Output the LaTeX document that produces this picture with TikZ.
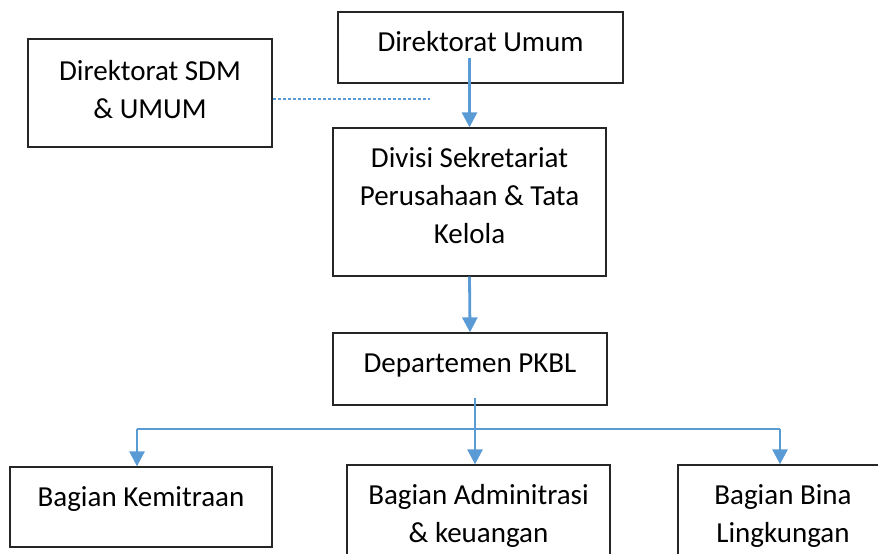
\documentclass[tikz,border=0pt]{standalone}
\usepackage{fontspec}
\setmainfont{Carlito}
\usetikzlibrary{arrows.meta}
\definecolor{linkblue}{HTML}{5B9BD5}
\tikzset{
  box/.style={draw=black!85, line width=1.3pt, inner sep=0pt},
  inlbl/.style={anchor=base, yshift=-40pt, align=center, inner sep=0pt, font=\fontsize{29}{38}\selectfont},
  arr/.style={draw=linkblue, line width=2.8pt, -{Triangle[width=15pt,length=15pt]}},
  hline/.style={draw=linkblue, line width=1.4pt},
  dashln/.style={draw=linkblue, line width=1.2pt, dash pattern=on 3pt off 2pt}
}
\begin{document}
\begin{tikzpicture}[x=1pt,y=-1pt]
\useasboundingbox (0,0) rectangle (878,554);
\clip (0,0) rectangle (878,554);

\node[box, minimum width=285pt, minimum height=71pt, label={[inlbl]north:Direktorat Umum}] (umum) at (480.5,47.5) {};
\node[box, minimum width=244pt, minimum height=108pt, label={[inlbl,yshift=-40pt]north:{Direktorat SDM\\ \& UMUM}}] (sdm) at (150,93) {};
\node[box, minimum width=273pt, minimum height=148pt, label={[inlbl,yshift=-76pt]north:{Divisi Sekretariat\\ Perusahaan \& Tata\\ Kelola}}] (divisi) at (469.5,202) {};
\node[box, minimum width=274pt, minimum height=72pt, label={[inlbl]north:Departemen PKBL}] (dept) at (470,369) {};
\node[box, minimum width=262pt, minimum height=80pt, label={[inlbl]north:Bagian Kemitraan}] (kem) at (141,507) {};
\node[box, minimum width=263pt, minimum height=110pt, label={[inlbl,yshift=-38pt]north:{Bagian Adminitrasi\\ \& keuangan}}] (adm) at (478.5,520) {};
\node[box, minimum width=210pt, minimum height=110pt, label={[inlbl,yshift=-38pt]north:{Bagian Bina\\ Lingkungan}}] (bina) at (783,520) {};

\coordinate (dashend) at (430,99);
\coordinate (split) at (475,429);
\coordinate (lft) at (137,429);
\coordinate (rgt) at (780,429);

\draw[dashln] ([yshift=-6pt]sdm.east) -- (dashend);
\draw[arr] ([yshift=26pt]umum.south -| divisi) -- (divisi.north);
\draw[arr] (divisi.south) -- (dept.north);
\draw[hline] (lft) -- (rgt);
\draw[arr] ([yshift=8pt]dept.south -| split) -- (split |- adm.north);
\draw[arr] (lft) -- (lft |- kem.north);
\draw[arr] (rgt) -- (rgt |- bina.north);
\end{tikzpicture}
\end{document}
